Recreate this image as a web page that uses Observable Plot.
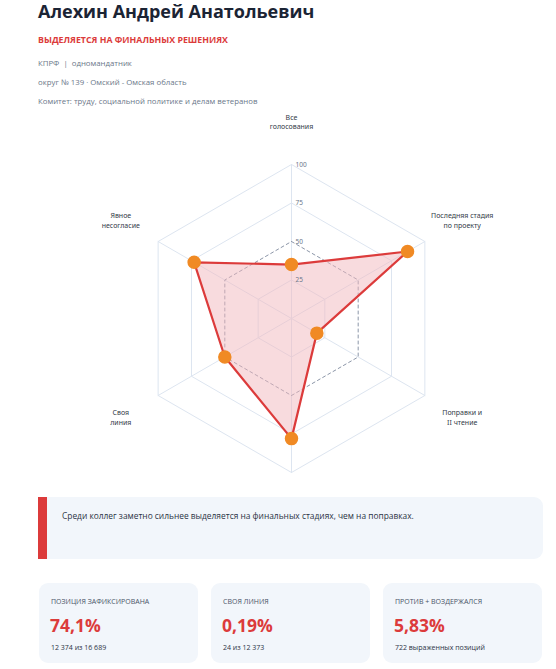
<!DOCTYPE html>
<html><head><meta charset="utf-8">
<script src="https://cdn.jsdelivr.net/npm/d3@7"></script>
<script src="https://cdn.jsdelivr.net/npm/@observablehq/plot@0.6"></script>
<style>
body{margin:0;background:#fff;font-family:"Open Sans",sans-serif;}
#wrap{position:relative;width:556px;height:669px;overflow:hidden;}
.abs{position:absolute;white-space:nowrap;}
#title{left:38px;top:1px;font-size:18px;font-weight:700;color:#1b2434;line-height:20px;}
#sub{left:38px;top:34px;font-size:8.8px;font-weight:700;color:#dc3b3b;line-height:12px;}
.meta{left:38px;font-size:7.8px;color:#6b7789;line-height:10px;}
#chart{left:0;top:105px;}
#note{left:38px;top:497px;width:496px;height:62px;background:#f2f6fb;border-left:9px solid #dc3b3b;border-radius:0 9px 9px 0;}
#note span{position:absolute;left:15px;top:13px;font-size:8.4px;color:#2b3445;white-space:nowrap;}
.card{position:absolute;top:583px;width:159px;height:80px;background:#f2f6fb;border-radius:9px;}
.card .lab{position:absolute;left:12px;top:14px;font-size:7px;color:#4a5568;white-space:nowrap;}
.card .val{position:absolute;left:11px;top:30px;font-size:17.5px;font-weight:700;color:#dc3b3b;white-space:nowrap;line-height:24px;}
.card .sm{position:absolute;left:12px;top:60px;font-size:7px;color:#2b3445;white-space:nowrap;}
</style></head><body>
<div id="wrap">
  <div class="abs" id="title">Алехин Андрей Анатольевич</div>
  <div class="abs" id="sub">ВЫДЕЛЯЕТСЯ НА ФИНАЛЬНЫХ РЕШЕНИЯХ</div>
  <div class="abs meta" style="top:58px">КПРФ &nbsp;|&nbsp; одномандатник</div>
  <div class="abs meta" style="top:77px">округ № 139 · Омский - Омская область</div>
  <div class="abs meta" style="top:96px">Комитет: труду, социальной политике и делам ветеранов</div>
  <div class="abs" id="chart"></div>
  <div class="abs" id="note"><span>Среди коллег заметно сильнее выделяется на финальных стадиях, чем на поправках.</span></div>
  <div id="cards"></div>
</div>
<script>
// ---- data ----
// the bottom axis carries no visible label in the reference
const axisLabels = ["Все\nголосования", "Последняя стадия\nпо проекту", "Поправки и\nII чтение", "", "Своя\nлиния", "Явное\nнесогласие"];
const values = [35, 87, 19, 78, 50, 73];
const ringLevels = [25, 50, 75, 100];
const peerLevel = 50;
const statLabels = ["ПОЗИЦИЯ ЗАФИКСИРОВАНА", "СВОЯ ЛИНИЯ", "ПРОТИВ + ВОЗДЕРЖАЛСЯ"];
const statValues = ["74,1%", "0,19%", "5,83%"];
const statNotes = ["12 374 из 16 689", "24 из 12 373", "722 выраженных позиций"];

// ---- geometry helpers ----
const n = axisLabels.length;
const ang = i => (i % n) * 2 * Math.PI / n;
const px = (i, r) => r * Math.sin(ang(i));
const py = (i, r) => r * Math.cos(ang(i));

const ringPts = ringLevels.flatMap(L => d3.range(n + 1).map(i => ({level: L, x: px(i, L), y: py(i, L)})));
const spokes = d3.range(n).flatMap(i => [{i, x: 0, y: 0}, {i, x: px(i, 100), y: py(i, 100)}]);
const poly = d3.range(n + 1).map(i => ({x: px(i, values[i % n]), y: py(i, values[i % n])}));
const pts = values.map((v, i) => ({x: px(i, v), y: py(i, v)}));
const labs = axisLabels.map((t, i) => ({t, x: px(i, 128), y: py(i, 128)})).filter(d => d.t);

const W = 556, H = 385, k = 1.54, cx = 291, cy = 213;
const chart = Plot.plot({
  width: W, height: H,
  margin: 0,
  style: {background: "transparent", overflow: "hidden"},
  x: {domain: [-cx / k, (W - cx) / k], axis: null},
  y: {domain: [-(H - cy) / k, cy / k], axis: null},
  marks: [
    Plot.line(ringPts.filter(d => d.level !== peerLevel), {x: "x", y: "y", z: "level", stroke: "#dde5f0", strokeWidth: 1}),
    Plot.line(spokes, {x: "x", y: "y", z: "i", stroke: "#dde5f0", strokeWidth: 1}),
    Plot.line(ringPts.filter(d => d.level === peerLevel), {x: "x", y: "y", stroke: "#8c96a8", strokeWidth: 1, strokeDasharray: "3,3"}),
    Plot.line(poly, {x: "x", y: "y", fill: "#f2b8bd", fillOpacity: 0.5, stroke: "#dc3b3b", strokeWidth: 2.2}),
    Plot.text(ringLevels, {x: 0, y: d => d, text: d => String(d), dx: 4, textAnchor: "start", fontSize: 6.5, fill: "#6b7789"}),
    Plot.dot(pts, {x: "x", y: "y", r: 6, fill: "#f08a24", stroke: "#f08a24"}),
    Plot.text(labs, {x: "x", y: "y", text: "t", fontSize: 7, fill: "#333b48", lineHeight: 1.35})
  ]
});
document.getElementById("chart").appendChild(chart);

// ---- cards ----
const cards = document.getElementById("cards");
statLabels.forEach((l, i) => {
  const c = document.createElement("div");
  c.className = "card";
  c.style.left = (39 + i * 172) + "px";
  c.innerHTML = `<div class="lab">${l}</div><div class="val">${statValues[i]}</div><div class="sm">${statNotes[i]}</div>`;
  cards.appendChild(c);
});
</script>
</body></html>
